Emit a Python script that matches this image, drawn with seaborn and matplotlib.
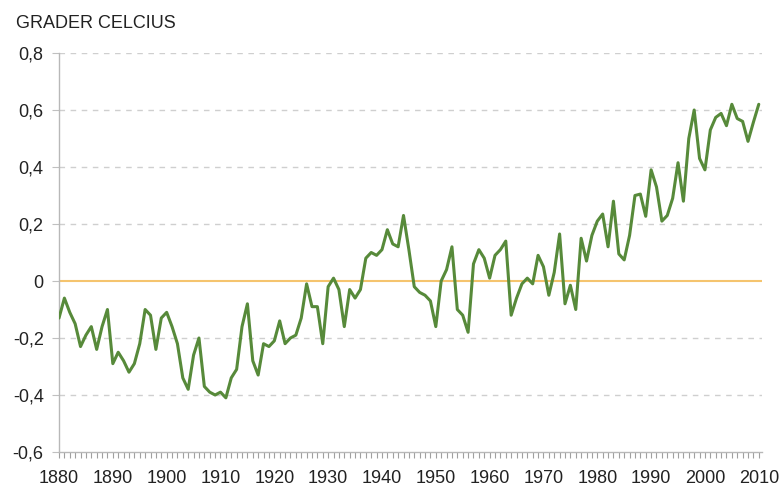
import numpy as np
import pandas as pd
import seaborn as sns
import matplotlib.pyplot as plt
from matplotlib.ticker import MultipleLocator, FuncFormatter

# temperaturavvik
years = list(range(1880, 2011))
anomaly = [
    -0.13, -0.06, -0.11, -0.15, -0.23, -0.19, -0.16, -0.24, -0.16, -0.10,  # 1880-1889
    -0.29, -0.25, -0.28, -0.32, -0.29, -0.22, -0.10, -0.12, -0.24, -0.13,  # 1890-1899
    -0.11, -0.16, -0.22, -0.34, -0.38, -0.26, -0.20, -0.37, -0.39, -0.40,  # 1900-1909
    -0.39, -0.41, -0.34, -0.31, -0.16, -0.08, -0.28, -0.33, -0.22, -0.23,  # 1910-1919
    -0.21, -0.14, -0.22, -0.20, -0.19, -0.13, -0.01, -0.09, -0.09, -0.22,  # 1920-1929
    -0.02,  0.01, -0.03, -0.16, -0.03, -0.06, -0.03,  0.08,  0.10,  0.09,  # 1930-1939
     0.11,  0.18,  0.13,  0.12,  0.23,  0.11, -0.02, -0.04, -0.05, -0.07,  # 1940-1949
    -0.16,  0.00,  0.04,  0.12, -0.10, -0.12, -0.18,  0.06,  0.11,  0.08,  # 1950-1959
     0.01,  0.09,  0.11,  0.14, -0.12, -0.06, -0.01,  0.01, -0.01,  0.09,  # 1960-1969
     0.05, -0.05,  0.03,  0.165, -0.08, -0.015, -0.10,  0.15,  0.07,  0.16,  # 1970-1979
     0.21,  0.235, 0.12,  0.28,  0.095, 0.074, 0.16,  0.30,  0.305, 0.227,  # 1980-1989
     0.39,  0.33,  0.21,  0.23,  0.29,  0.415, 0.28,  0.50,  0.60,  0.43,  # 1990-1999
     0.39,  0.53,  0.574, 0.588, 0.545, 0.62,  0.57,  0.56,  0.49,  0.557,  # 2000-2009
     0.62,                                                                 # 2010
]
y_ticks = [-0.6, -0.4, -0.2, 0, 0.2, 0.4, 0.6, 0.8]
x_ticks = list(range(1880, 2011, 10))

df = pd.DataFrame({"year": years, "anomaly": anomaly})

sns.set_style("white")
plt.rcParams["font.family"] = ["Liberation Sans", "DejaVu Sans"]

fig = plt.figure(figsize=(7.82, 4.90), dpi=100)
ax = fig.add_axes([59 / 782, 38 / 490, 703 / 782, 399 / 490])

grey = "#b8b8b8"
for v in y_ticks:
    if v not in (0, -0.6):
        ax.axhline(v, color="#cfcfcf", lw=1, ls=(0, (4, 4)), zorder=0)
ax.axhline(0, color="#f5c46e", lw=1.5, zorder=1)

sns.lineplot(data=df, x="year", y="anomaly", ax=ax, color="#578a3a", lw=2.2, zorder=3)

ax.set_xlim(1880, 2010.6)
ax.set_ylim(-0.6, 0.8)
ax.set_xticks(x_ticks)
ax.xaxis.set_minor_locator(MultipleLocator(1))
ax.set_yticks(y_ticks)
ax.yaxis.set_major_formatter(FuncFormatter(
    lambda v, p: "0" if abs(v) < 1e-9 else f"{v:.1f}".replace(".", ",")))
ax.set_xlabel("")
ax.set_ylabel("")

for s in ["top", "right"]:
    ax.spines[s].set_visible(False)
for s in ["left", "bottom"]:
    ax.spines[s].set_color(grey)
    ax.spines[s].set_linewidth(1)

ax.tick_params(axis="x", which="both", direction="out", length=4, width=0.8,
               color="#a0a0a0", labelsize=13, labelcolor="#222222", pad=9, bottom=True)
ax.tick_params(axis="y", which="major", direction="out", length=5, width=0.8,
               color="#c0c0c0", labelsize=13, labelcolor="#222222", pad=6, left=True)

fig.text(16 / 782, 1 - 24 / 490, "GRADER CELCIUS", fontsize=13, color="#222222",
         ha="left", va="center")

fig.savefig("out.png", dpi=100)
